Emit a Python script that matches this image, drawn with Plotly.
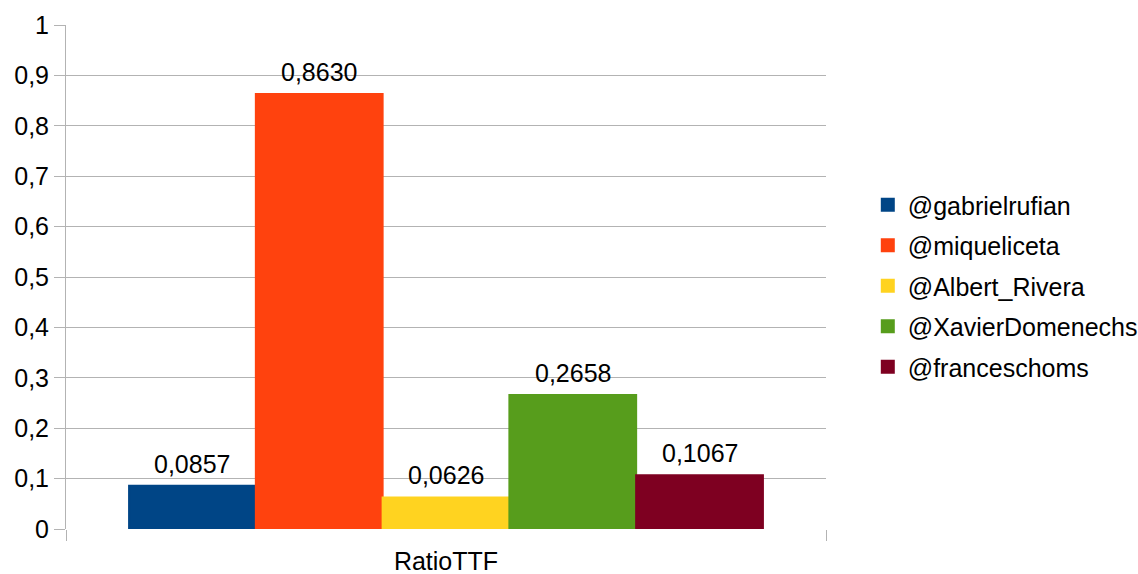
import plotly.graph_objects as go

categories = ["RatioTTF"]
series_names = ["@gabrielrufian", "@miqueliceta", "@Albert_Rivera",
                "@XavierDomenechs", "@franceschoms"]
series_values = [0.0857, 0.8630, 0.0626, 0.2658, 0.1067]
series_colors = ["#004586", "#ff420e", "#ffd320", "#579d1c", "#7e0021"]
y_ticks = [0, 0.1, 0.2, 0.3, 0.4, 0.5, 0.6, 0.7, 0.8, 0.9, 1]

FONT = "Liberation Sans, Arial, sans-serif"
FS = 25
BARGAP = 0.166
GRID = "#b3b3b3"

fig = go.Figure()
n = len(series_names)
group_w = 1 - BARGAP
bar_w = group_w / n
for i, (name, val, col) in enumerate(zip(series_names, series_values, series_colors)):
    fig.add_trace(go.Bar(
        x=categories, y=[val], name=name,
        marker=dict(color=col, line=dict(width=2, color=col)),
        legendgroup=name,
    ))
    # value label centred over this series' bar inside the category group
    fig.add_annotation(
        x=-group_w / 2 + bar_w * (i + 0.5), y=val, xref="x", yref="y",
        text=f"{val:.4f}".replace(".", ","),
        showarrow=False, yanchor="bottom", yshift=6,
        font=dict(family=FONT, size=FS, color="#000000"),
    )

fig.update_layout(
    barmode="group",
    bargap=BARGAP,
    bargroupgap=0,
    width=1138, height=574,
    margin=dict(l=66, r=312, t=25, b=45, autoexpand=False),
    paper_bgcolor="white", plot_bgcolor="white",
    font=dict(family=FONT, size=FS, color="#000000"),
    separators=",.",
    showlegend=True,
    legend=dict(
        x=1.055, y=0.482, xanchor="left", yanchor="middle",
        font=dict(family=FONT, size=FS, color="#000000"),
        traceorder="grouped", tracegroupgap=5,
        bgcolor="rgba(0,0,0,0)", borderwidth=0,
    ),
)

fig.update_xaxes(
    type="category", tickson="boundaries",
    ticks="outside", ticklen=11, tickcolor=GRID, tickwidth=1,
    ticklabelstandoff=15, automargin=False,
    showline=False, showgrid=True, gridcolor=GRID, gridwidth=1,
    zeroline=False,
)
fig.update_yaxes(
    range=[0, 1], tickvals=y_ticks, automargin=False,
    ticks="outside", ticklen=11, tickcolor=GRID, tickwidth=1,
    showgrid=True, gridcolor=GRID, gridwidth=1,
    showline=True, linecolor=GRID, linewidth=1,
    zeroline=False,
)

fig.write_html("out.html")
